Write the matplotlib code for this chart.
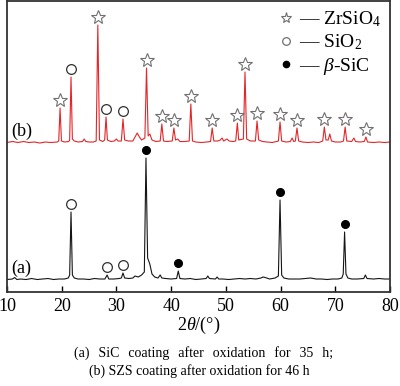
# XRD patterns of the oxidised coatings
import numpy as np
import matplotlib.pyplot as plt
from matplotlib.lines import Line2D

plt.rcParams["font.family"] = "Liberation Serif"
plt.rcParams["mathtext.fontset"] = "custom"
plt.rcParams["mathtext.rm"] = "Liberation Serif"
plt.rcParams["mathtext.it"] = "Liberation Serif:italic"

# trace (b): SZS coating, 2theta / intensity (a.u., above its own baseline)
b_2theta = [10, 11, 12, 13, 14, 15, 16, 17, 18, 19.2,
            19.45, 19.7, 19.95, 20.5, 21.3, 21.45, 21.7, 21.95, 22.3, 23,
            23.8, 24.1, 24.4, 25, 25.8, 26.3, 26.6, 26.9, 27.5, 27.85,
            28.1, 28.35, 29, 29.6, 30, 30.3, 30.9, 31.2, 31.5, 32.2,
            33, 33.4, 33.8, 34.2, 34.6, 35.2, 35.5, 35.8, 36.1, 36.5,
            37.2, 38.0, 38.3, 38.6, 39.2, 40.2, 40.5, 40.8, 41.2, 41.6,
            42.5, 43.3, 43.6, 43.9, 44.5, 45.5, 46.5, 47.2, 47.5, 47.8,
            48.5, 49.0, 49.3, 49.6, 50.2, 50.6, 51.3, 51.8, 52.1, 52.35,
            53.2, 53.5, 53.8, 54.5, 55.4, 55.7, 56.0, 56.7, 57.5, 58.5,
            59.6, 59.9, 60.2, 61, 61.8, 62.1, 62.4, 62.7, 63.0, 63.3,
            64, 65, 66, 67, 67.7, 68.0, 68.3, 68.7, 69.0, 69.3,
            70, 71, 71.5, 71.8, 72.1, 73, 73.4, 73.7, 74.5, 75.3,
            75.6, 75.9, 77, 78, 79, 80]
b_int = [0.5, 1.5, 0.5, 1.5, 0.5, 1.0, 0, 1.0, 0.5, 1.0,
         2, 35, 2, 1, 1.5, 3, 66, 4, 2, 1,
         1.5, 4, 1.5, 1, 1, 2, 118, 3, 1.5, 3,
         26, 3, 1.5, 2, 4, 2, 2, 24, 3, 2,
         2, 6, 10, 6, 3, 5, 75, 7, 9, 3,
         1.5, 2, 19, 2, 1.5, 2, 15, 3, 4, 1.5,
         1.5, 2, 39, 2, 1, 0.5, 1, 1.5, 15, 2,
         2, 3, 5, 2, 4, 2, 1.5, 2, 20, 3,
         4, 71, 4, 2, 2, 22, 3, 1.5, 1, 0.5,
         2, 21, 2, 1, 1.5, 5, 1.5, 2, 15, 2,
         1, 0.5, 1, 0.5, 2, 16, 3, 3, 9, 2,
         1, 1, 2, 16, 2, 1.5, 5, 1.5, 1, 1.5,
         6, 1, 0.5, 1, 0.5, 1]

# trace (a): SiC coating
a_2theta = [10, 11, 11.4, 11.8, 12.5, 13.5, 14.5, 15.5, 16.5, 17.5,
            18.5, 19.5, 20.5, 21.2, 21.45, 21.7, 21.95, 22.3, 23, 24,
            25, 26, 27, 27.9, 28.3, 28.6, 29.5, 30.5, 30.9, 31.2,
            31.5, 32.3, 33, 33.4, 34, 34.6, 35.1, 35.4, 35.7, 36.1,
            36.5, 37, 37.6, 38.0, 38.3, 39, 40, 41.0, 41.3, 41.6,
            42.5, 43.5, 44.5, 45.5, 46.4, 46.7, 47, 48.1, 48.4, 48.7,
            49.5, 50.5, 51.5, 52.5, 53.5, 54.5, 55.5, 56.4, 56.8, 57.2,
            58, 59, 59.6, 59.9, 60.2, 60.6, 61.5, 62.5, 63.5, 64.5,
            65.5, 66.5, 67.5, 68.5, 69.5, 70.5, 71.2, 71.45, 71.7, 71.95,
            72.3, 73, 74, 75.2, 75.5, 75.8, 77, 78, 79, 80]
a_int = [0.5, 1, 2.5, 0.5, 1, 0.5, 1.5, 0.5, 1, 1.5,
         0.5, 1, 1, 2, 5, 68, 5, 2, 1, 1,
         0.5, 1.5, 1, 1, 5, 1, 1, 1.5, 2, 7,
         2, 1.5, 2, 4, 3, 5, 8, 122, 22, 16,
         6, 3, 2, 5, 2, 1.5, 1, 1.5, 9, 1.5,
         1, 1.5, 0.5, 1, 1.5, 4, 1.5, 1, 3, 1,
         1, 0.5, 1, 1.5, 1, 1.5, 1, 2, 3, 2.5,
         1, 2, 4, 80, 5, 2, 1, 1, 1, 1.5,
         2, 1, 1, 0.5, 1, 1, 2, 6, 48, 6,
         2, 1, 1, 1.5, 5, 1.5, 1, 1.5, 1, 1]

# phase marks (2theta of the peak they sit on)
b_zrsio4 = [19.7, 26.6, 35.5, 38.3, 40.5, 43.6, 47.5, 52.1, 53.5, 55.7,
            59.9, 63.0, 68.0, 71.8, 75.6]
b_sio2 = [21.7, 28.1, 31.2]
a_sio2 = [21.7, 28.3, 31.2]
a_sic = [35.4, 41.3, 59.9, 71.7]

a_offset = 12
b_offset = 149
mark_gap = 8

a_y = np.array(a_int) + a_offset
b_y = np.array(b_int) + b_offset

fig = plt.figure(figsize=(4, 3.86), dpi=100)
ax = fig.add_axes([0.0175, 0.2435, 0.9575, 0.7539])

ax.plot(a_2theta, a_y, color='#151515', linewidth=0.8)
ax.plot(b_2theta, b_y, color='#e3262a', linewidth=0.8)

star = dict(marker='*', linestyle='none', markersize=10,
            markerfacecolor='white', markeredgecolor='#707070', markeredgewidth=0.8)
ring = dict(marker='o', linestyle='none', markersize=7,
            markerfacecolor='white', markeredgecolor='#303030', markeredgewidth=0.9)
dot = dict(marker='o', linestyle='none', markersize=5.5, color='black')

ax.plot(b_zrsio4, np.interp(b_zrsio4, b_2theta, b_y) + mark_gap, **star)
ax.plot(b_sio2, np.interp(b_sio2, b_2theta, b_y) + mark_gap, **ring)
ax.plot(a_sio2, np.interp(a_sio2, a_2theta, a_y) + mark_gap, **ring)
ax.plot(a_sic, np.interp(a_sic, a_2theta, a_y) + mark_gap, **dot)

ax.text(10.8, 161, '(b)', fontsize=13, va='center', ha='left')
ax.text(10.8, 24, '(a)', fontsize=13, va='center', ha='left')

# legend: small symbols followed by a dash and the phase name
handles = [Line2D([], [], **{**star, 'markersize': 8}),
           Line2D([], [], **{**ring, 'markersize': 5.5, 'markeredgecolor': '#707070'}),
           Line2D([], [], **{**dot, 'markersize': 4.5})]
labels = ['— ZrSiO$_4$', '— SiO$_2$', r'— $\beta$-SiC']
ax.legend(handles, labels, loc='upper right', frameon=False, fontsize=14,
          handlelength=0.6, handletextpad=0.4, labelspacing=0.17,
          borderaxespad=0.1, borderpad=0.35)

ax.set_xlim(10, 80)
ax.set_ylim(0, 291)
ax.set_xticks([10, 20, 30, 40, 50, 60, 70, 80])
ax.set_yticks([])
ax.tick_params(axis='x', direction='in', length=4, width=1, labelsize=13, pad=4)
for s in ax.spines.values():
    s.set_linewidth(1.3)
    s.set_color('#333333')
ax.set_xlabel(r'$2\theta$/(°)', fontsize=13, labelpad=0)

fig.text(0.51, 1 - 353 / 386,
         '(a)\u2009\u2009 SiC\u2009\u2009 coating\u2009\u2009 after\u2009\u2009 oxidation'
         '\u2009\u2009 for\u2009\u2009 35\u2009\u2009 h;',
         fontsize=10, ha='center', va='center')
fig.text(0.4975, 1 - 371 / 386, '(b) SZS coating after oxidation for 46 h',
         fontsize=10, ha='center', va='center')

plt.savefig('out.png', dpi=100)
